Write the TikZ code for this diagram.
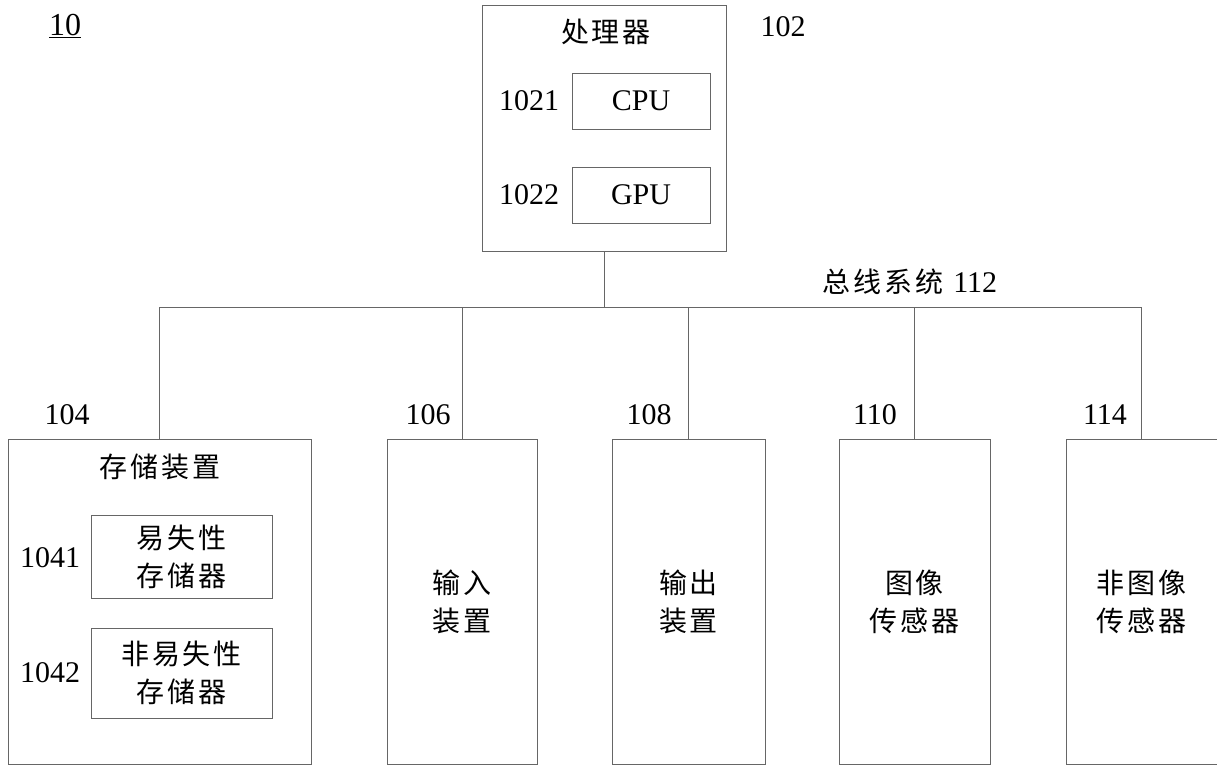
\documentclass[tikz,border=0pt]{standalone}
\usepackage{fontspec}
\setmainfont{Liberation Serif}
\newfontfamily\cjk[LetterSpace=10]{Noto Sans CJK SC}
\begin{document}
\begin{tikzpicture}[x=1pt,y=-1pt,
  box/.style={draw=black!60, line width=1pt, inner sep=0pt, rectangle},
  cn/.style={font=\cjk\fontsize{28}{38}\selectfont, align=center, inner sep=0pt},
  num/.style={font=\fontsize{30}{34}\selectfont, inner sep=0pt},
  wire/.style={draw=black!60, line width=1pt}]
\useasboundingbox (0,0) rectangle (1217,766);
% processor
\node[box, minimum width=244pt, minimum height=246pt] (proc) at (604,128) {};
\node[cn] (proct) at (606,32) {处理器};
\node[box, minimum width=138pt, minimum height=56pt, num] (cpu) at (641,101) {CPU};
\node[box, minimum width=138pt, minimum height=56pt, num] (gpu) at (641,195) {GPU};
\node[num] (l1021) at (529,101) {1021};
\node[num] (l1022) at (529,195) {1022};
\node[num] (l102) at (783,27) {102};
\node[num, font=\fontsize{32}{34}\selectfont] (l10) at (65,26) {\underline{10}};
% bus
\coordinate (busY) at (0,307);
\node[cn] (bust) at (910,282) {总线系统\hspace{10pt}\fontspec{Liberation Serif}\fontsize{30}{34}\selectfont 112};
% bottom boxes
\node[box, minimum width=303pt, minimum height=325pt] (store) at (159.5,601.5) {};
\node[cn] (storet) at (160,467) {存储装置};
\node[box, minimum width=181pt, minimum height=83pt, cn] (vol) at (181.5,556.5) {易失性\\存储器};
\node[box, minimum width=181pt, minimum height=90pt, cn] (nvol) at (181.5,673) {非易失性\\存储器};
\node[num] (l1041) at (50,558) {1041};
\node[num] (l1042) at (50,673) {1042};
\node[box, minimum width=150pt, minimum height=325pt, cn] (inp) at (462,601.5) {输入\\装置};
\node[box, minimum width=153pt, minimum height=325pt, cn] (outp) at (688.5,601.5) {输出\\装置};
\node[box, minimum width=151pt, minimum height=325pt, cn] (img) at (914.5,601.5) {图像\\传感器};
\node[box, minimum width=151pt, minimum height=325pt, cn] (nimg) at (1141.5,601.5) {非图像\\传感器};
\node[num] (l104) at (67,415) {104};
\node[num] (l106) at (428,415) {106};
\node[num] (l108) at (649,415) {108};
\node[num] (l110) at (875,415) {110};
\node[num] (l114) at (1105,415) {114};
% connectors
\draw[wire] (proc.south) -- (proc.south |- busY);
\draw[wire] (store.north) |- (nimg.north |- busY) -- (nimg.north);
\draw[wire] (inp.north) -- (inp.north |- busY);
\draw[wire] (outp.north) -- (outp.north |- busY);
\draw[wire] (img.north) -- (img.north |- busY);
\end{tikzpicture}
\end{document}
